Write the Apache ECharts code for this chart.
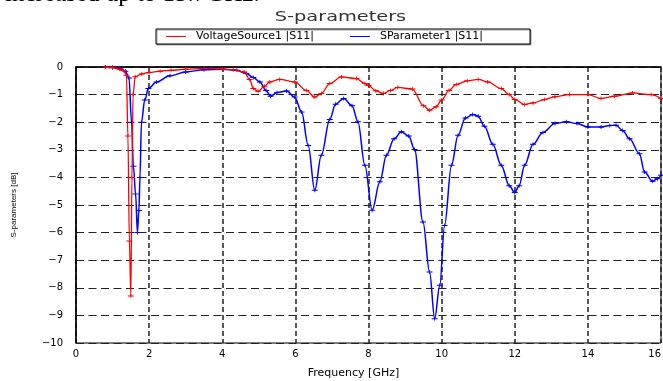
<!DOCTYPE html>
<html>
<head>
<meta charset="utf-8">
<script src="https://cdn.jsdelivr.net/npm/echarts@6/dist/echarts.min.js"></script>
<style>html,body{margin:0;padding:0;background:#fff}#c{width:663px;height:381px}</style>
</head>
<body>
<div id="c"></div>
<script>
const chartTitle = 'S-parameters';
const seriesNames = ['VoltageSource1 |S11|', 'SParameter1 |S11|'];
const xTicks = [0, 2, 4, 6, 8, 10, 12, 14, 16];
const yTicks = [0, -1, -2, -3, -4, -5, -6, -7, -8, -9, -10];

const redS11 = [
  [0.8,0],[1.0,-0.02],[1.2,-0.08],[1.3,-0.13],[1.38,-0.3],[1.42,-2.5],[1.46,-6.3],[1.50,-8.3],
  [1.53,-4.0],[1.56,-1.0],[1.62,-0.35],[1.8,-0.25],[2.0,-0.2],[2.3,-0.15],[2.6,-0.12],[3.0,-0.08],
  [3.5,-0.05],[4.0,-0.07],[4.3,-0.1],[4.6,-0.18],[4.75,-0.45],[4.85,-0.78],[4.98,-0.88],[5.15,-0.7],
  [5.3,-0.54],[5.57,-0.45],[5.98,-0.54],[6.3,-0.85],[6.53,-1.09],[6.71,-0.96],[6.94,-0.6],[7.26,-0.36],
  [7.67,-0.42],[7.9,-0.6],[8.0,-0.67],[8.2,-0.86],[8.41,-0.96],[8.6,-0.85],[8.8,-0.74],[9.2,-0.8],
  [9.5,-1.4],[9.67,-1.57],[9.85,-1.44],[10.0,-1.2],[10.2,-0.85],[10.4,-0.63],[10.7,-0.5],[11.0,-0.45],
  [11.26,-0.54],[11.63,-0.78],[11.85,-1.0],[12.0,-1.18],[12.27,-1.36],[12.5,-1.3],[12.81,-1.18],[13.1,-1.08],
  [13.5,-1.0],[14.0,-1.0],[14.36,-1.14],[14.73,-1.06],[15.22,-0.94],[15.73,-1.0],[16.0,-1.14]
];

const blueS11 = [
  [0.8,0],[1.0,-0.02],[1.2,-0.06],[1.35,-0.15],[1.45,-0.4],[1.52,-2.0],[1.57,-3.6],[1.63,-4.6],
  [1.68,-6.0],[1.72,-5.2],[1.75,-4.0],[1.79,-2.0],[1.88,-1.2],[1.98,-0.78],[2.2,-0.54],[2.57,-0.32],
  [3.0,-0.18],[3.5,-0.1],[4.0,-0.08],[4.4,-0.12],[4.66,-0.24],[4.85,-0.38],[5.03,-0.54],[5.2,-0.85],
  [5.32,-1.06],[5.5,-0.92],[5.76,-0.87],[5.98,-1.09],[6.17,-1.63],[6.35,-2.84],[6.53,-4.47],[6.71,-3.2],
  [6.94,-1.9],[7.1,-1.35],[7.32,-1.14],[7.55,-1.4],[7.71,-1.98],[7.9,-3.56],[8.1,-5.19],[8.31,-4.16],
  [8.49,-3.2],[8.7,-2.6],[8.9,-2.35],[9.1,-2.5],[9.26,-2.99],[9.49,-5.62],[9.67,-7.43],[9.81,-9.12],
  [9.95,-7.91],[10.08,-5.74],[10.27,-3.56],[10.45,-2.47],[10.65,-1.85],[10.85,-1.72],[11.0,-1.78],[11.17,-2.15],
  [11.4,-2.8],[11.63,-3.56],[11.85,-4.3],[12.0,-4.55],[12.12,-4.3],[12.27,-3.56],[12.5,-2.8],[12.77,-2.37],
  [13.1,-2.05],[13.41,-1.98],[13.7,-2.05],[14.0,-2.17],[14.36,-2.17],[14.6,-2.12],[14.77,-2.11],[14.95,-2.3],
  [15.14,-2.6],[15.41,-3.14],[15.55,-3.8],[15.77,-4.14],[15.9,-4.05],[16.0,-3.92]
];

const FONT = '"Liberation Sans", Arial, sans-serif';
const WIDE = '"DejaVu Sans", Verdana, sans-serif';
const markerPath = 'path://M0,1.5H7V2.5H0Z M3,0H4V4H3Z';
const fmtNum = v => String(v).replace('-', '\u2212');

const chart = echarts.init(document.getElementById('c'), null, {renderer: 'canvas'});
chart.setOption({
  animation: false,
  backgroundColor: '#fff',
  graphic: [
    {
      type: 'text', x: 5, y: 7,
      style: {text: 'increased up to 15.7GHz.', font: '25px "Liberation Serif", "Times New Roman", serif', fill: '#000', verticalAlign: 'bottom'}
    },
    {
      type: 'text', x: 340.5, y: 17.5, scaleX: 1.38, scaleY: 1,
      style: {text: chartTitle, font: '14px ' + WIDE, fill: '#333', align: 'center', verticalAlign: 'middle'}
    }
  ],
  legend: {
    left: 156, top: 29,
    padding: [2, 47, 2, 10],
    itemGap: 36, itemWidth: 20, itemHeight: 1,
    icon: 'rect',
    borderColor: '#000', borderWidth: 1, backgroundColor: '#fff',
    shadowColor: 'rgba(0,0,0,0.35)', shadowOffsetX: 1, shadowOffsetY: 1, shadowBlur: 0,
    textStyle: {fontFamily: WIDE, fontSize: 11, color: '#000', padding: [0, 0, 0, 5]},
    data: seriesNames
  },
  grid: {
    left: 76, right: 2, top: 67, bottom: 38, outerBoundsMode: 'none', containLabel: false,
    show: true, borderColor: '#000', borderWidth: 1, backgroundColor: 'transparent'
  },
  xAxis: {
    type: 'value', min: xTicks[0], max: xTicks[xTicks.length - 1], interval: 2,
    name: 'Frequency [GHz]', nameLocation: 'middle', nameGap: 25,
    nameTextStyle: {fontFamily: WIDE, fontSize: 11, color: '#000', padding: [0, 30, 0, 0]},
    axisLine: {lineStyle: {color: '#000', width: 1.5}},
    axisTick: {show: false},
    axisLabel: {fontFamily: WIDE, fontSize: 10, color: '#000', margin: 6, formatter: fmtNum, hideOverlap: false, alignMaxLabel: 'right'},
    splitLine: {show: true, lineStyle: {color: '#222', type: [5, 3], width: 1.5}}
  },
  yAxis: {
    type: 'value', min: yTicks[yTicks.length - 1], max: yTicks[0], interval: 1,
    name: 'S-parameters [dB]', nameLocation: 'middle', nameGap: 58, nameRotate: 90,
    nameTextStyle: {fontFamily: FONT, fontSize: 8, color: '#000'},
    axisLine: {lineStyle: {color: '#000', width: 1.5}},
    axisTick: {show: false},
    axisLabel: {fontFamily: WIDE, fontSize: 10, color: '#000', margin: 13, formatter: fmtNum},
    splitLine: {show: true, lineStyle: {color: '#222', type: [8, 4.5], width: 1}}
  },
  series: [
    {
      name: seriesNames[0], type: 'line', data: redS11, smooth: 0.35, smoothMonotone: 'x',
      showAllSymbol: true, symbol: markerPath, symbolSize: [6, 4],
      lineStyle: {color: '#ff0000', width: 1.3}, itemStyle: {color: '#ff0000'}, z: 3
    },
    {
      name: seriesNames[1], type: 'line', data: blueS11, smooth: 0.35, smoothMonotone: 'x',
      showAllSymbol: true, symbol: markerPath, symbolSize: [6, 4],
      lineStyle: {color: '#0000ff', width: 1.5}, itemStyle: {color: '#0000ff'}, z: 2
    }
  ]
});
</script>
</body>
</html>
